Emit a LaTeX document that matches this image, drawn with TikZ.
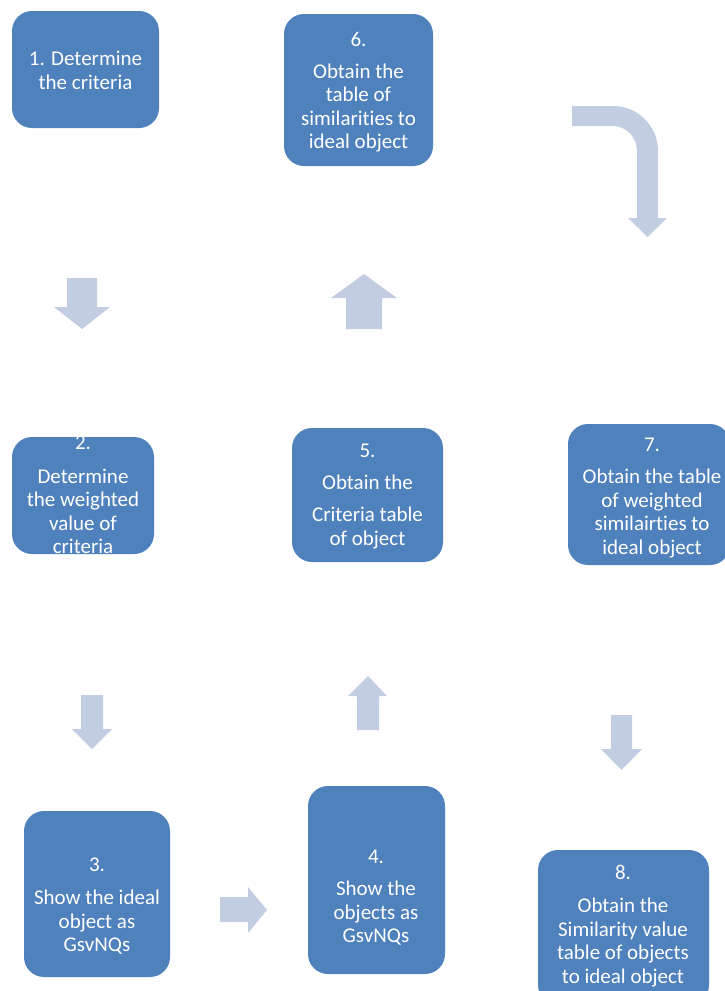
\documentclass[tikz,border=0pt]{standalone}
\usepackage{fontspec}
\setmainfont{Carlito}[Ligatures={NoCommon}]
\definecolor{boxblue}{RGB}{79,129,189}
\definecolor{arrowblue}{RGB}{195,205,226}
\begin{document}
\begin{tikzpicture}[x=1pt,y=-1pt,
  stepbox/.style={fill=boxblue, draw=none, rounded corners=20pt, inner sep=0pt, outer sep=0pt},
  txt/.style={text=white, align=center, anchor=north, inner sep=0pt, font=\fontsize{21}{23.5}\selectfont},
  blockarrow/.style={fill=arrowblue, draw=none}]
\useasboundingbox (0,0) rectangle (725,991);

% boxes
\node[stepbox, minimum width=147pt, minimum height=117pt] (b1) at (85.5,69.5) {};
\node[stepbox, minimum width=149pt, minimum height=152pt] (b6) at (358.5,90) {};
\node[stepbox, minimum width=142pt, minimum height=117pt] (b2) at (83,495.5) {};
\node[stepbox, minimum width=151pt, minimum height=134pt] (b5) at (367.5,495) {};
\node[stepbox, minimum width=162pt, minimum height=141pt] (b7) at (649,494.5) {};
\node[stepbox, minimum width=146pt, minimum height=166pt] (b3) at (97,894) {};
\node[stepbox, minimum width=137pt, minimum height=188pt] (b4) at (376.5,880) {};
\node[stepbox, minimum width=171pt, minimum height=155pt] (b8) at (623.5,927.5) {};

% texts
\node[txt] (t1) at (85.5,51) {1. Determine\\the criteria};
\node[txt] (t6) at (358.5,32) {6.\\[8.5pt]Obtain the\\table of\\similarities to\\ideal object};
\node[txt] (t2) at (83,436) {2.\\[10pt]Determine\\the weighted\\value of\\criteria};
\node[txt] (t5) at (367.5,444) {5.\\[8.5pt]Obtain the\\[8.5pt]Criteria table\\of object};
\node[txt] (t7) at (652,438) {7.\\[8.5pt]Obtain the table\\of weighted\\similairties to\\ideal object};
\node[txt] (t3) at (97,858) {3.\\[9.5pt]Show the ideal\\object as\\GsvNQs};
\node[txt] (t4) at (376,850) {4.\\[8.5pt]Show the\\objects as\\GsvNQs};
\node[txt] (t8) at (623,865) {8.\\[9.5pt]Obtain the\\Similarity value\\table of objects\\to ideal object};

% block arrows
\fill[blockarrow] (67,278) -- (97,278) -- (97,307) -- (110,307) -- (82,329) -- (54,307) -- (67,307) -- cycle;
\fill[blockarrow] (81,695) -- (103,695) -- (103,729) -- (112,729) -- (92,749) -- (72,729) -- (81,729) -- cycle;
\fill[blockarrow] (220,897) -- (248,897) -- (248,887) -- (267,910) -- (248,933) -- (248,922) -- (220,922) -- cycle;
\fill[blockarrow] (357,730) -- (357,696) -- (348,696) -- (368,676) -- (387,696) -- (379,696) -- (379,730) -- cycle;
\fill[blockarrow] (346,329) -- (346,298) -- (331,298) -- (364,274) -- (397,298) -- (382,298) -- (382,329) -- cycle;
\fill[blockarrow] (611,715) -- (632,715) -- (632,749) -- (642,749) -- (621.5,770) -- (601,749) -- (611,749) -- cycle;
\fill[blockarrow] (572,106) -- (613,106) .. controls (637.9,106) and (658,126.1) .. (658,151)
  -- (658,218) -- (667,218) -- (647.5,237) -- (628,218) -- (637,218) -- (637,151)
  .. controls (637,137.2) and (626.3,126) .. (613,126) -- (572,126) -- cycle;
\end{tikzpicture}
\end{document}
